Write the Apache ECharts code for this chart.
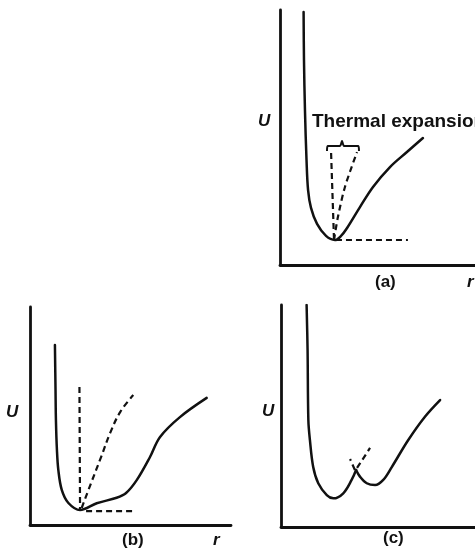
<!DOCTYPE html>
<html>
<head>
<meta charset="utf-8">
<script src="https://cdn.jsdelivr.net/npm/echarts@6/dist/echarts.min.js"></script>
<style>
  html, body { margin: 0; padding: 0; background: #fff; }
  #chart { width: 475px; height: 549px; }
</style>
</head>
<body>
<div id="chart"></div>
<script>
// each panel uses r and U from 0 to 100 (share of the axis length)

// (a) potential well, symmetric-ish
const curveA = [[12.1, 99.2], [12.3, 80.4], [12.8, 60.8], [13.6, 41.2], [14.4, 29.4], [15.9, 22.4],
  [19.0, 16.1], [23.6, 11.4], [28.2, 9.8], [31.3, 11.4], [34.4, 14.5], [41.0, 22.7],
  [47.7, 30.6], [56.4, 38.4], [65.1, 44.3], [73.3, 49.8]];
const vertA = [[26.2, 43.9], [27.7, 9.8]];
const shiftA = [[27.7, 9.8], [29.7, 18.8], [33.3, 30.6], [39.5, 44.3]];
const baseA = [[28.7, 9.8], [65.6, 9.8]];
const braceA = [[24.1, 44.7], [24.4, 46.7], [30.8, 46.7], [31.8, 48.6], [32.8, 46.7], [40.2, 46.7], [40.5, 44.7]];

// (b) strongly asymmetric well
const curveB = [[12.4, 82.6], [12.7, 61.9], [12.9, 48.2], [13.4, 34.4], [14.1, 25.2], [15.8, 16.1],
  [19.1, 10.1], [24.9, 6.9], [33.2, 10.0], [43.1, 12.5], [47.8, 14.7], [53.1, 20.6],
  [59.7, 31.2], [64.7, 40.4], [74.6, 49.5], [87.9, 58.3]];
const vertB = [[24.6, 63.3], [24.9, 6.9]];
const shiftB = [[25.7, 7.8], [30.5, 19.5], [35.5, 31.5], [40.0, 42.5], [45.0, 52.0], [51.4, 59.6]];
const baseB = [[27.9, 6.4], [52.2, 6.4]];

// (c) double well
const leftWellC = [[13.2, 100], [13.7, 79.7], [14.1, 48.2], [14.9, 39.2], [16.6, 27.0], [19.2, 19.7],
  [23.6, 14.4], [27.0, 12.9], [32.1, 15.2], [36.4, 21.2], [38.7, 25.7]];
const rightWellC = [[38.7, 25.7], [40.7, 22.7], [44.2, 19.7], [48.5, 18.9], [52.7, 21.2], [57.1, 27.0],
  [65.6, 39.2], [74.2, 49.7], [82.0, 57.2]];
const leftDashC = [[38.1, 25.7], [35.6, 30.6]];
const rightDashC = [[39.2, 26.6], [45.9, 35.6]];

const chart = echarts.init(document.getElementById('chart'));

const axisStyle = { show: true, onZero: false, lineStyle: { color: '#111', width: 2.8 } };
function makeAxis(gridIndex) {
  return {
    type: 'value', gridIndex: gridIndex, min: 0, max: 100,
    axisLine: axisStyle, axisTick: { show: false }, axisLabel: { show: false }, splitLine: { show: false }
  };
}

function solid(data, idx) {
  return {
    type: 'line', data: data, xAxisIndex: idx, yAxisIndex: idx, symbol: 'none', smooth: 0.35,
    lineStyle: { color: '#111', width: 2.5, cap: 'round' }, silent: true
  };
}
function dashed(data, idx, smooth) {
  return {
    type: 'line', data: data, xAxisIndex: idx, yAxisIndex: idx, symbol: 'none', smooth: smooth || false,
    lineStyle: { color: '#111', width: 2.2, type: [6, 4] }, silent: true
  };
}

const labelFont = "'Liberation Sans', sans-serif";
function label(text, x, y, size, style) {
  return {
    type: 'text', left: x, top: y,
    style: { text: text, font: (style || 'italic bold') + ' ' + size + 'px ' + labelFont, fill: '#111' }
  };
}

chart.setOption({
  backgroundColor: '#fff',
  animation: false,
  grid: [
    { left: 280, top: 10, width: 195, height: 255 },
    { left: 30, top: 307, width: 201, height: 218 },
    { left: 281, top: 305, width: 194, height: 222 }
  ],
  xAxis: [makeAxis(0), makeAxis(1), makeAxis(2)],
  yAxis: [makeAxis(0), makeAxis(1), makeAxis(2)],
  series: [
    solid(curveA, 0),
    dashed(vertA, 0),
    dashed(shiftA, 0, 0.3),
    dashed(baseA, 0),
    { type: 'line', data: braceA, xAxisIndex: 0, yAxisIndex: 0, symbol: 'none', smooth: 0.2,
      lineStyle: { color: '#111', width: 2 }, silent: true },
    solid(curveB, 1),
    dashed(vertB, 1),
    dashed(shiftB, 1, 0.4),
    dashed(baseB, 1),
    solid(leftWellC, 2),
    solid(rightWellC, 2),
    dashed(leftDashC, 2),
    dashed(rightDashC, 2)
  ],
  graphic: [
    label('U', 258, 113, 17),
    { type: 'text', left: 312, top: 112,
      style: { text: 'Thermal expansion', font: "bold 19px 'Liberation Sans', sans-serif", fill: '#111' } },
    label('(a)', 375, 274, 17, 'bold'),
    label('r', 467, 274, 17),
    label('U', 6, 404, 17),
    label('(b)', 122, 532, 17, 'bold'),
    label('r', 213, 532, 17),
    label('U', 262, 403, 17),
    label('(c)', 383, 530, 17, 'bold')
  ]
});
</script>
</body>
</html>
